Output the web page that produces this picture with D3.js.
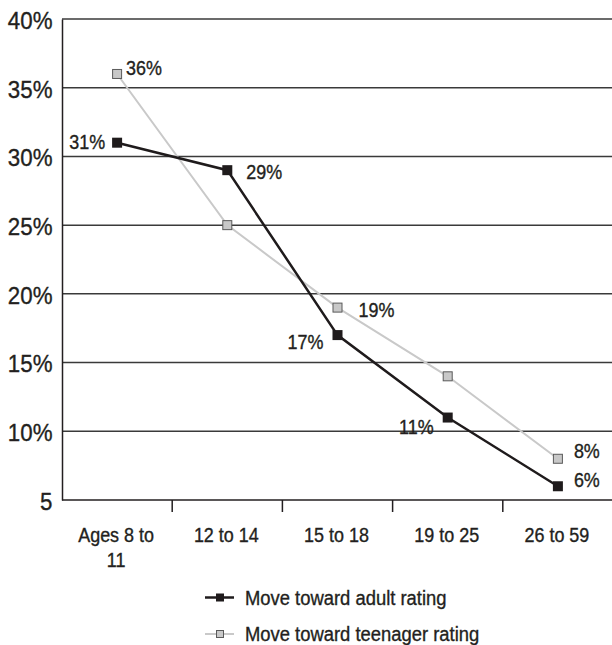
<!DOCTYPE html>
<html>
<head>
<meta charset="utf-8">
<script src="https://cdn.jsdelivr.net/npm/d3@7"></script>
<style>
  html, body { margin: 0; padding: 0; background: #fff; }
  svg text { font-family: 'Liberation Sans', Arial, Helvetica, sans-serif; fill: #231f20; stroke: #231f20; stroke-width: 0.35px; }
</style>
</head>
<body>
<svg id="chart" width="612" height="645"></svg>
<script>
// ---- data ----
const categories = ["Ages 8 to 11", "12 to 14", "15 to 18", "19 to 25", "26 to 59"];
const categoryLines = [["Ages 8 to", "11"], ["12 to 14"], ["15 to 18"], ["19 to 25"], ["26 to 59"]];
const adultValues = [31, 29, 17, 11, 6];
const teenValues = [36, 25, 19, 14, 8];
const seriesNames = ["Move toward adult rating", "Move toward teenager rating"];
const yTicks = [5, 10, 15, 20, 25, 30, 35, 40];
const yTickLabels = ["5", "10%", "15%", "20%", "25%", "30%", "35%", "40%"];
const teenLabelShown = [true, false, true, false, true];

// ---- label placement (style) ----
const adultLabelOffsets = [[-12, -1, "end"], [19, 2, "start"], [-14, 7, "end"], [-14, 9, "end"], [16, -6, "start"]];
const teenLabelOffsets = [[9, -5.5, "start"], [0, 0, "start"], [21, 2.5, "start"], [0, 0, "start"], [16, -7.5, "start"]];

const svg = d3.select("#chart");
const mLeft = 62, mRight = 613, mTop = 19, mBottom = 500;
const SQUEEZE = 0.92;

function condense(sel, factor) {
  sel.each(function () {
    const w = this.getComputedTextLength();
    if (w > 0) {
      d3.select(this).attr("textLength", w * factor).attr("lengthAdjust", "spacingAndGlyphs");
    }
  });
}

const x = d3.scaleBand().domain(categories).range([mLeft, mRight]).padding(0);
const y = d3.scaleLinear().domain([5, 40]).range([mBottom, mTop]);
const cx = c => x(c) + x.bandwidth() / 2;

// gridlines
svg.append("g").selectAll("line").data(yTicks.filter(t => t > 5)).join("line")
  .attr("x1", mLeft).attr("x2", 612)
  .attr("y1", d => y(d)).attr("y2", d => y(d))
  .attr("stroke", "#3a3a3a").attr("stroke-width", 1.5);

// y axis
const yAxis = d3.axisLeft(y).tickValues(yTicks).tickSize(0)
  .tickFormat((d, i) => yTickLabels[i]);
const gy = svg.append("g").attr("transform", `translate(${mLeft},0)`).call(yAxis);
gy.select(".domain").attr("stroke", "#231f20").attr("stroke-width", 1.5);
gy.selectAll("text").attr("x", -9.5).attr("dy", "0.38em")
  .style("font-size", "24.5px").attr("fill", "#231f20");
condense(gy.selectAll("text"), 0.91);

// x axis
const xAxis = d3.axisBottom(x).tickSize(0).tickFormat("");
const gx = svg.append("g").attr("transform", `translate(0,${mBottom})`).call(xAxis);
gx.select(".domain").attr("stroke", "#231f20").attr("stroke-width", 1.5).attr("d", `M${mLeft},0H612`);
gx.selectAll(".tick").remove();
// boundary ticks
svg.append("g").selectAll("line").data(categories.slice(1)).join("line")
  .attr("x1", d => x(d)).attr("x2", d => x(d))
  .attr("y1", mBottom).attr("y2", mBottom + 12)
  .attr("stroke", "#231f20").attr("stroke-width", 1.5);
// category labels
const catG = svg.append("g");
categories.forEach((c, i) => {
  categoryLines[i].forEach((ln, j) => {
    catG.append("text").attr("x", cx(c) - 1).attr("y", 541.5 + j * 25)
      .attr("text-anchor", "middle").style("font-size", "19.5px").text(ln);
  });
});
condense(catG.selectAll("text"), SQUEEZE);

const line = d3.line().x((d, i) => cx(categories[i])).y(d => y(d));

// teen series
svg.append("path").datum(teenValues).attr("d", line)
  .attr("fill", "none").attr("stroke", "#c9c9c9").attr("stroke-width", 2);
svg.append("g").selectAll("rect").data(teenValues).join("rect")
  .attr("x", (d, i) => cx(categories[i]) - 4.5).attr("y", d => y(d) - 4.5)
  .attr("width", 9).attr("height", 9)
  .attr("fill", "#c8c8c8").attr("stroke", "#5a5a5a").attr("stroke-width", 1);

// adult series
svg.append("path").datum(adultValues).attr("d", line)
  .attr("fill", "none").attr("stroke", "#1f1b1c").attr("stroke-width", 2.5);
svg.append("g").selectAll("rect").data(adultValues).join("rect")
  .attr("x", (d, i) => cx(categories[i]) - 5).attr("y", d => y(d) - 5)
  .attr("width", 10).attr("height", 10).attr("fill", "#1f1b1c");

// value labels
const valG = svg.append("g");
valG.selectAll("text.adult").data(adultValues).join("text").attr("class", "adult")
  .attr("x", (d, i) => cx(categories[i]) + adultLabelOffsets[i][0])
  .attr("y", (d, i) => y(d) + adultLabelOffsets[i][1])
  .attr("dy", "0.36em")
  .attr("text-anchor", (d, i) => adultLabelOffsets[i][2])
  .style("font-size", "19.5px").text(d => d + "%");
valG.selectAll("text.teen").data(teenValues.map((v, i) => ({ v, i })).filter(d => teenLabelShown[d.i])).join("text").attr("class", "teen")
  .attr("x", d => cx(categories[d.i]) + teenLabelOffsets[d.i][0])
  .attr("y", d => y(d.v) + teenLabelOffsets[d.i][1])
  .attr("dy", "0.36em")
  .attr("text-anchor", d => teenLabelOffsets[d.i][2])
  .style("font-size", "19.5px").text(d => d.v + "%");
condense(valG.selectAll("text"), SQUEEZE);

// legend
const legendY = [597.5, 634];
const legendStyles = [
  { stroke: "#1f1b1c", sw: 2.5, fill: "#1f1b1c", mstroke: "none", size: 8 },
  { stroke: "#c9c9c9", sw: 2, fill: "#c8c8c8", mstroke: "#5a5a5a", size: 7 }
];
const legG = svg.append("g");
seriesNames.forEach((name, i) => {
  const st = legendStyles[i];
  legG.append("line").attr("x1", 205).attr("x2", 234).attr("y1", legendY[i]).attr("y2", legendY[i])
    .attr("stroke", st.stroke).attr("stroke-width", st.sw);
  legG.append("rect").attr("x", 220 - st.size / 2).attr("y", legendY[i] - st.size / 2)
    .attr("width", st.size).attr("height", st.size)
    .attr("fill", st.fill).attr("stroke", st.mstroke).attr("stroke-width", 1);
  legG.append("text").attr("x", 245).attr("y", legendY[i]).attr("dy", "0.36em")
    .style("font-size", "20px").text(name);
});
condense(legG.selectAll("text"), SQUEEZE);
</script>
</body>
</html>
